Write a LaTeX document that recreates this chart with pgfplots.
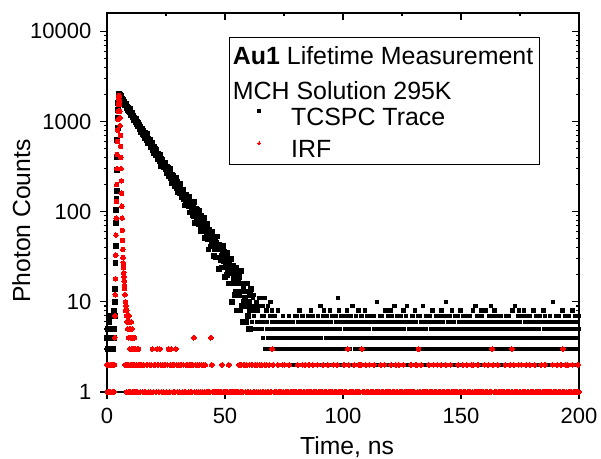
\documentclass[border=0pt]{standalone}
\usepackage{fontspec}
\setmainfont{Liberation Sans}
\usepackage{pgfplots}
\pgfplotsset{compat=1.18}
\begin{document}
\begin{tikzpicture}
\path[use as bounding box] (-53.5pt,-33.5pt) rectangle (247pt,196pt);
\begin{axis}[at={(0pt,0pt)}, anchor=south west, scale only axis, width=236pt, height=189.5pt,
 xmin=0, xmax=200, ymin=1, ymax=16000, ymode=log,
 xtick={0,50,100,150,200}, minor x tick num=1, ytick={1,10,100,1000,10000},
 xtick pos=left, ytick pos=left, tick align=outside, xticklabels={}, yticklabels={},
 major tick length=3.3pt, minor tick length=1.7pt,
 axis line style={line width=0.6pt}, tick style={black, line width=0.6pt}]
\end{axis}
\begin{axis}[at={(0pt,0pt)}, anchor=south west, scale only axis, width=236pt, height=189.5pt,
 xmin=0, xmax=200, ymin=1, ymax=16000, ymode=log, clip=false,
 xtick={0,50,100,150,200}, minor x tick num=1,
 ytick={1,10,100,1000,10000}, yticklabels={1,10,100,1000,10000},
 xtick pos=right, ytick pos=right, xticklabel pos=left, yticklabel pos=left, tick align=inside,
 major tick length=3.3pt, minor tick length=1.7pt,
 axis line style={draw=none}, tick style={black, line width=0.6pt},
 /pgf/number format/assume math mode=true,
 xticklabel style={font=\fontsize{11}{13}\selectfont, anchor=base, inner sep=0pt, yshift=-15.65pt},
 yticklabel style={font=\fontsize{11}{13}\selectfont, anchor=east, inner sep=0pt, xshift=-7.65pt},
 xlabel={Time, ns}, ylabel={Photon Counts},
 every axis x label/.style={at={(axis description cs:0.5085,-0.1662)}, anchor=base, font=\fontsize{12.35}{14}\selectfont},
 every axis y label/.style={at={(axis description cs:-0.163,0.451)}, rotate=90, anchor=base, font=\fontsize{12.35}{14}\selectfont},
 legend style={at={(axis description cs:0.3199,0.748)}, anchor=north west, draw=none, fill=none,
   inner sep=0pt, outer sep=0pt, row sep=5.94pt, font=\fontsize{12.45}{14}\selectfont,
   nodes={inner sep=0pt}, /tikz/every odd column/.append style={column sep=15.3pt}},
 legend cell align=left,
 legend image code/.code={\draw[#1, mark size=0.65pt] plot coordinates {(0pt,3.8pt)};}
]
\addplot[black, only marks, mark=square*, mark size=1.2pt, mark options={fill=black, draw=black, line width=0pt}] table[row sep=\\] {t y\\
0 4\\0.2 5\\0.4 3\\0.6 4\\0.8 6\\1 3\\1.2 5\\1.4 4\\1.6 3\\1.8 7\\2 4\\2.2 5\\2.4 3\\2.6 4\\2.8 5\\3 8\\3.2 4\\
3.3 7\\3.4 10\\3.5 14\\3.6 27\\3.7 42\\3.8 75\\3.9 105\\4 140\\4.1 170\\4.2 290\\4.3 400\\4.4 620\\4.5 850\\4.6 1100\\4.7 1350\\4.8 1600\\4.9 1800\\5 1950\\5.1 2020\\
5.2 2001\\5.4 1890\\5.6 1953\\5.8 1864\\6 1917\\6.2 1770\\6.4 1777\\6.6 1659\\6.8 1751\\7 1694\\
7.2 1618\\7.4 1670\\7.6 1520\\7.8 1580\\8 1517\\8.2 1586\\8.4 1425\\8.6 1447\\8.8 1330\\9 1430\\
9.2 1381\\9.4 1316\\9.6 1365\\9.8 1258\\10 1260\\10.2 1186\\10.4 1242\\10.6 1261\\10.8 1156\\11 1113\\
11.2 1169\\11.4 1044\\11.6 1099\\11.8 1055\\12 1078\\12.2 985\\12.4 1065\\12.6 993\\12.8 945\\13 896\\
13.2 961\\13.4 913\\13.6 885\\13.8 929\\14 832\\14.2 865\\14.4 761\\14.6 835\\14.8 834\\15 771\\
15.2 717\\15.4 786\\15.6 755\\15.8 712\\16 752\\16.2 659\\16.4 707\\16.6 672\\16.8 724\\17 622\\
17.2 644\\17.4 572\\17.6 644\\17.8 617\\18 579\\18.2 618\\18.4 552\\18.6 559\\18.8 514\\19 558\\
19.2 576\\19.4 510\\19.6 487\\19.8 529\\20 450\\20.2 491\\20.4 467\\20.6 486\\20.8 428\\21 486\\
21.2 443\\21.4 414\\21.6 386\\21.8 433\\22 406\\22.2 391\\22.4 425\\22.6 362\\22.8 388\\23 323\\
23.2 376\\23.4 379\\23.6 340\\23.8 349\\24 312\\24.2 348\\24.4 320\\24.6 350\\24.8 297\\25 308\\
25.2 266\\25.4 314\\25.6 297\\25.8 274\\26 303\\26.2 248\\26.4 281\\26.6 262\\26.8 297\\27 237\\
27.2 253\\27.4 210\\27.6 259\\27.8 244\\28 224\\28.2 250\\28.4 212\\28.6 219\\28.8 193\\29 223\\
29.2 236\\29.4 198\\29.6 185\\29.8 215\\30 167\\30.2 196\\30.4 182\\30.6 196\\30.8 162\\31 201\\
31.2 175\\31.4 159\\31.6 144\\31.8 174\\32 159\\32.2 152\\32.4 174\\32.6 138\\32.8 155\\33 117\\
33.2 151\\33.4 154\\33.6 132\\33.8 139\\34 118\\34.2 141\\34.4 125\\34.6 146\\34.8 114\\35 122\\
35.2 98\\35.4 129\\35.6 119\\35.8 106\\36 126\\36.2 92\\36.4 113\\36.6 103\\36.8 127\\37 90\\
37.2 101\\37.4 75\\37.6 107\\37.8 100\\38 87\\38.2 104\\38.4 82\\38.6 87\\38.8 72\\39 92\\
39.2 101\\39.4 78\\39.6 70\\39.8 90\\40 61\\40.2 80\\40.4 72\\40.6 81\\40.8 61\\41 85\\
41.2 70\\41.4 61\\41.6 51\\41.8 71\\42 62\\42.2 58\\42.4 73\\42.6 50\\42.8 62\\43 38\\
43.2 61\\43.4 63\\43.6 50\\43.8 55\\44 41\\44.2 57\\44.4 47\\44.6 60\\44.8 41\\45 47\\
45.2 32\\45.4 51\\45.6 46\\45.8 38\\46 51\\46.2 31\\46.4 45\\46.6 38\\46.8 53\\47 31\\
47.2 38\\47.4 23\\47.6 43\\47.8 38\\48 31\\48.2 42\\48.4 29\\48.6 32\\48.8 24\\49 36\\
49.2 42\\49.4 28\\49.6 24\\49.8 36\\50 19\\50.2 30\\50.4 26\\50.6 32\\50.8 20\\51 35\\
51.2 26\\51.4 21\\51.6 16\\51.8 29\\52 23\\52.2 21\\52.4 30\\52.6 16\\52.8 24\\53 10\\
53.2 23\\53.4 25\\53.6 17\\53.8 20\\54 12\\54.2 21\\54.4 16\\54.6 24\\54.8 13\\55 16\\
55.2 8\\55.4 19\\55.6 17\\55.8 12\\56 19\\56.2 8\\56.4 16\\56.6 13\\56.8 22\\57 9\\
57.2 13\\57.4 6\\57.6 16\\57.8 14\\58 10\\58.2 16\\58.4 9\\58.6 11\\58.8 6\\59 13\\
59.2 16\\59.4 9\\59.6 7\\59.8 13\\60 5\\60.2 10\\60.4 8\\60.6 12\\60.8 5\\61 14\\
};
\addlegendentry{TCSPC Trace}
\addplot[forget plot, black, only marks, mark=square*, mark size=0.85pt, mark options={fill=black, draw=black, line width=0pt}] table[row sep=\\] {t y\\
61.2 9\\61.4 6\\61.6 5\\61.8 11\\62 8\\62.2 7\\62.4 12\\62.6 5\\62.8 9\\63 5\\
63.2 9\\63.4 10\\63.6 6\\63.8 8\\64 5\\64.2 9\\64.4 6\\64.6 11\\64.8 5\\65 6\\
65.2 5\\65.4 9\\65.6 7\\65.8 5\\66 9\\66.2 4\\66.4 7\\66.6 6\\66.8 11\\67 3\\
67.2 6\\67.4 3\\67.6 8\\67.8 6\\68 5\\68.2 9\\68.4 4\\68.6 5\\68.8 3\\69 7\\
69.2 10\\69.4 5\\69.6 3\\69.8 8\\70 3\\
70.2 6\\70.4 4\\70.6 5\\70.8 3\\71 7\\71.2 5\\71.4 4\\71.6 6\\71.8 3\\72 5\\
72.2 4\\72.4 8\\72.6 5\\72.8 3\\73 6\\73.2 4\\73.4 5\\73.6 2\\73.8 6\\74 4\\
74.2 5\\74.4 3\\74.6 7\\74.8 4\\75 5\\75.2 6\\75.4 3\\75.6 4\\75.8 5\\76 2\\
76.2 6\\76.4 5\\76.6 4\\76.8 3\\77 7\\77.2 4\\77.4 5\\77.6 3\\77.8 6\\78 4\\
78.2 4\\78.4 5\\78.6 3\\78.8 6\\79 2\\79.2 5\\79.4 4\\79.6 7\\79.8 3\\80 5\\
80.2 4\\80.4 7\\80.6 3\\80.8 5\\81 2\\81.2 6\\81.4 4\\81.6 8\\81.8 3\\82 5\\82.2 2\\82.4 6\\82.6 4\\82.8 7\\83 5\\83.2 3\\83.4 2\\83.6 6\\83.8 4\\84 3\\
84.2 5\\84.4 3\\84.6 6\\84.8 2\\85 4\\85.2 7\\85.4 5\\85.6 3\\85.8 6\\86 4\\86.2 2\\86.4 8\\86.6 5\\86.8 3\\87 7\\87.2 4\\87.4 2\\87.6 6\\87.8 1\\88 5\\
88.2 3\\88.4 6\\88.6 4\\88.8 2\\89 5\\89.2 3\\89.4 7\\89.6 4\\89.8 6\\90 2\\90.2 5\\90.4 9\\90.6 3\\90.8 4\\91 6\\91.2 2\\91.4 5\\91.6 7\\91.8 3\\92 8\\
92.2 6\\92.4 2\\92.6 5\\92.8 4\\93 3\\93.2 7\\93.4 2\\93.6 6\\93.8 4\\94 5\\94.2 3\\94.4 8\\94.6 2\\94.8 4\\95 6\\95.2 5\\95.4 3\\95.6 7\\95.8 4\\96 1\\
96.2 2\\96.4 5\\96.6 3\\96.8 7\\97 4\\97.2 6\\97.4 3\\97.6 5\\97.8 2\\98 11\\98.2 8\\98.4 6\\98.6 3\\98.8 5\\99 4\\99.2 2\\99.4 7\\99.6 3\\99.8 6\\100 4\\
100.2 4\\100.4 3\\100.6 6\\100.8 5\\101 2\\101.2 7\\101.4 4\\101.6 3\\101.8 8\\102 5\\102.2 6\\102.4 2\\102.6 4\\102.8 3\\103 5\\103.2 7\\103.4 2\\103.6 6\\103.8 4\\104 9\\
104.2 5\\104.4 4\\104.6 2\\104.8 6\\105 3\\105.2 5\\105.4 7\\105.6 4\\105.8 2\\106 6\\106.2 3\\106.4 5\\106.6 8\\106.8 4\\107 2\\107.2 3\\107.4 6\\107.6 4\\107.8 7\\108 5\\
108.2 3\\108.4 6\\108.6 5\\108.8 2\\109 4\\109.2 8\\109.4 3\\109.6 5\\109.8 6\\110 2\\110.2 4\\110.4 7\\110.6 3\\110.8 6\\111 5\\111.2 2\\111.4 4\\111.6 3\\111.8 7\\112 1\\
112.2 6\\112.4 3\\112.6 4\\112.8 2\\113 7\\113.2 5\\113.4 3\\113.6 6\\113.8 4\\114 2\\114.2 5\\114.4 10\\114.6 3\\114.8 4\\115 6\\115.2 5\\115.4 2\\115.6 7\\115.8 3\\116 4\\
116.2 2\\116.4 4\\116.6 7\\116.8 3\\117 5\\117.2 6\\117.4 2\\117.6 4\\117.8 3\\118 8\\118.2 5\\118.4 6\\118.6 2\\118.8 4\\119 7\\119.2 3\\119.4 5\\119.6 4\\119.8 6\\120 3\\
120.2 8\\120.4 3\\120.6 7\\120.8 5\\121 2\\121.2 6\\121.4 4\\121.6 3\\121.8 9\\122 5\\122.2 2\\122.4 6\\122.6 4\\122.8 7\\123 3\\123.2 5\\123.4 2\\123.6 4\\123.8 6\\124 3\\
124.2 5\\124.4 7\\124.6 4\\124.8 6\\125 3\\125.2 2\\125.4 4\\125.6 8\\125.8 5\\126 3\\126.2 6\\126.4 2\\126.6 4\\126.8 7\\127 9\\127.2 3\\127.4 6\\127.6 2\\127.8 4\\128 5\\
128.2 3\\128.4 4\\128.6 6\\128.8 2\\129 3\\129.2 5\\129.4 7\\129.6 4\\129.8 6\\130 2\\130.2 5\\130.4 3\\130.6 8\\130.8 4\\131 6\\131.2 2\\131.4 5\\131.6 3\\131.8 7\\132 4\\
132.2 4\\132.4 3\\132.6 7\\132.8 2\\133 5\\133.2 6\\133.4 4\\133.6 3\\133.8 9\\134 5\\134.2 2\\134.4 4\\134.6 6\\134.8 3\\135 5\\135.2 7\\135.4 2\\135.6 4\\135.8 3\\136 6\\
136.2 4\\136.4 6\\136.6 3\\136.8 7\\137 2\\137.2 4\\137.4 5\\137.6 3\\137.8 6\\138 8\\138.2 4\\138.4 2\\138.6 5\\138.8 3\\139 6\\139.2 4\\139.4 7\\139.6 3\\139.8 5\\140 2\\
140.2 5\\140.4 1\\140.6 6\\140.8 2\\141 4\\141.2 7\\141.4 3\\141.6 5\\141.8 8\\142 2\\142.2 4\\142.4 6\\142.6 3\\142.8 5\\143 7\\143.2 4\\143.4 2\\143.6 10\\143.8 3\\144 5\\
144.2 3\\144.4 6\\144.6 4\\144.8 5\\145 3\\145.2 7\\145.4 4\\145.6 2\\145.8 6\\146 5\\146.2 8\\146.4 3\\146.6 4\\146.8 2\\147 6\\147.2 5\\147.4 3\\147.6 7\\147.8 4\\148 2\\
148.2 1\\148.4 4\\148.6 7\\148.8 3\\149 5\\149.2 6\\149.4 4\\149.6 2\\149.8 8\\150 3\\150.2 5\\150.4 4\\150.6 6\\150.8 2\\151 7\\151.2 3\\151.4 4\\151.6 5\\151.8 2\\152 6\\
152.2 1\\152.4 7\\152.6 3\\152.8 4\\153 2\\153.2 5\\153.4 6\\153.6 3\\153.8 7\\154 4\\154.2 2\\154.4 6\\154.6 5\\154.8 3\\155 8\\155.2 4\\155.4 2\\155.6 5\\155.8 6\\156 3\\
156.2 9\\156.4 4\\156.6 6\\156.8 2\\157 7\\157.2 5\\157.4 3\\157.6 4\\157.8 2\\158 6\\158.2 5\\158.4 8\\158.6 3\\158.8 4\\159 7\\159.2 2\\159.4 5\\159.6 6\\159.8 3\\160 4\\
160.2 3\\160.4 8\\160.6 5\\160.8 6\\161 2\\161.2 4\\161.4 3\\161.6 5\\161.8 7\\162 2\\162.2 6\\162.4 4\\162.6 9\\162.8 4\\163 3\\163.2 6\\163.4 5\\163.6 2\\163.8 7\\164 4\\
164.2 8\\164.4 3\\164.6 5\\164.8 2\\165 6\\165.2 4\\165.4 7\\165.6 5\\165.8 3\\166 2\\166.2 6\\166.4 4\\166.6 3\\166.8 4\\167 7\\167.2 3\\167.4 5\\167.6 2\\167.8 6\\168 4\\
168.2 5\\168.4 6\\168.6 2\\168.8 4\\169 7\\169.2 3\\169.4 6\\169.6 5\\169.8 2\\170 4\\170.2 3\\170.4 7\\170.6 1\\170.8 3\\171 6\\171.2 5\\171.4 2\\171.6 4\\171.8 8\\172 3\\
172.2 4\\172.4 6\\172.6 2\\172.8 5\\173 9\\173.2 3\\173.4 4\\173.6 6\\173.8 2\\174 5\\174.2 7\\174.4 3\\174.6 8\\174.8 3\\175 6\\175.2 4\\175.4 2\\175.6 5\\175.8 3\\176 7\\
176.2 4\\176.4 3\\176.6 8\\176.8 5\\177 6\\177.2 2\\177.4 4\\177.6 7\\177.8 3\\178 5\\178.2 4\\178.4 6\\178.6 3\\178.8 2\\179 4\\179.2 7\\179.4 3\\179.6 5\\179.8 6\\180 2\\
180.2 5\\180.4 2\\180.6 4\\180.8 8\\181 6\\181.2 3\\181.4 5\\181.6 4\\181.8 2\\182 7\\182.2 3\\182.4 6\\182.6 4\\182.8 2\\183 5\\183.2 3\\183.4 7\\183.6 4\\183.8 6\\184 3\\
184.2 3\\184.4 6\\184.6 4\\184.8 2\\185 8\\185.2 5\\185.4 3\\185.6 7\\185.8 4\\186 2\\186.2 6\\186.4 1\\186.6 5\\186.8 5\\187 3\\187.2 6\\187.4 2\\187.6 4\\187.8 7\\188 5\\
188.2 6\\188.4 4\\188.6 2\\188.8 5\\189 10\\189.2 3\\189.4 4\\189.6 6\\189.8 5\\190 2\\190.2 7\\190.4 3\\190.6 4\\190.8 6\\191 3\\191.2 4\\191.4 2\\191.6 7\\191.8 5\\192 3\\
192.2 6\\192.4 4\\192.6 5\\192.8 3\\193 8\\193.2 2\\193.4 4\\193.6 6\\193.8 5\\194 3\\194.2 7\\194.4 4\\194.6 1\\194.8 6\\195 2\\195.2 5\\195.4 4\\195.6 3\\195.8 7\\196 2\\
196.2 4\\196.4 2\\196.6 6\\196.8 3\\197 5\\197.2 8\\197.4 4\\197.6 2\\197.8 3\\198 6\\198.2 4\\198.4 7\\198.6 5\\198.8 5\\199 4\\199.2 2\\199.4 6\\199.6 3\\199.8 5\\200 7\\
};
\addplot[red, only marks, mark=*, mark size=1.15pt, mark options={fill=red, draw=red, line width=0pt}] table[row sep=\\] {t y\\
0 2\\0.2 1\\0.4 2\\0.6 1\\0.8 2\\1 1\\1.2 1\\1.4 2\\1.6 1\\1.8 2\\2 2\\2.2 1\\2.4 2\\2.6 1\\2.8 2\\3 1\\3.2 2\\
3.3 4\\3.4 7\\3.5 12\\3.6 18\\3.7 33\\3.8 55\\3.9 85\\4 130\\4.1 200\\4.2 300\\4.3 430\\4.4 600\\4.5 800\\4.6 1050\\4.7 1300\\4.8 1550\\4.9 1780\\5 1950\\5.1 1900\\
5.2 1750\\5.3 1550\\5.4 1300\\5.5 1100\\5.6 900\\5.7 700\\5.8 530\\5.9 400\\6 300\\6.1 220\\6.2 160\\6.3 115\\6.4 85\\6.5 62\\6.6 48\\6.7 38\\6.8 31\\6.9 27\\7 24\\7.1 21\\7.2 19\\7.3 17\\7.4 15\\7.5 14\\
7.6 12\\7.7 2\\7.8 10\\7.9 8\\8 9\\8.1 2\\8.2 7\\8.3 1\\8.4 8\\8.5 6\\8.6 2\\8.7 7\\8.8 5\\8.9 1\\9 6\\9.1 4\\9.2 2\\9.3 7\\9.4 5\\9.5 1\\9.6 6\\9.7 3\\9.8 4\\9.9 2\\10 5\\
10.1 1\\10.2 4\\10.3 6\\10.4 2\\10.5 3\\10.6 5\\10.7 1\\10.8 4\\10.9 3\\11 2\\11.1 4\\11.2 1\\11.3 3\\11.4 2\\11.5 3\\11.6 1\\11.7 4\\11.8 2\\11.9 3\\12 1\\12.2 3\\12.4 2\\12.6 1\\12.8 3\\13 1\\13.2 2\\13.4 3\\
13.6 2\\14 1\\14.4 2\\14.8 2\\15.2 1\\15.6 2\\16 1\\16.4 1\\16.8 2\\17.2 2\\17.6 1\\18 2\\18.4 1\\18.8 2\\19.2 3\\19.6 1\\20 2\\20.4 2\\20.8 1\\21.2 3\\
21.6 2\\22 1\\22.4 3\\22.8 2\\23.2 1\\23.6 2\\24 1\\24.4 2\\24.8 2\\25.2 1\\25.6 2\\26 3\\26.4 1\\26.8 2\\27.2 3\\27.6 2\\28 1\\28.4 2\\28.8 1\\29.2 3\\
29.6 2\\30 1\\30.4 2\\30.8 1\\31.2 2\\31.6 2\\32 1\\32.4 2\\32.8 1\\33.2 1\\33.6 2\\34 2\\34.4 1\\34.8 2\\35.2 1\\35.6 2\\36 1\\36.4 2\\36.8 4\\37.2 1\\
37.6 2\\38 1\\38.4 2\\38.8 1\\39.2 2\\39.6 1\\40 2\\40.4 1\\40.8 2\\41.2 1\\41.6 2\\
42 1\\42.4 1\\42.8 1\\43.2 1\\43.6 1\\44 4\\44.4 2\\44.8 1\\45.2 1\\45.6 1\\46 1\\46.4 1\\46.8 1\\47.2 1\\47.6 1\\48 1\\48.4 1\\48.8 2\\49.2 1\\49.6 1\\
50 1\\50.4 1\\50.8 1\\51.2 1\\51.6 2\\52 1\\52.4 1\\52.8 1\\53.2 1\\53.6 1\\54 1\\54.4 1\\54.8 1\\55.2 1\\55.6 1\\
56 2\\56.4 1\\56.8 2\\57.2 1\\57.6 1\\58 2\\58.4 2\\58.8 1\\59.2 2\\59.6 1\\60 1\\60.4 2\\60.8 1\\61.2 2\\61.6 2\\62 1\\62.4 1\\62.8 2\\63.2 1\\63.6 2\\
64 1\\64.4 1\\64.8 2\\65.2 1\\65.6 2\\66 1\\66.4 1\\66.8 2\\
67.2 1\\67.6 2\\68 1\\68.4 1\\68.8 2\\69.2 1\\69.6 1\\70 3\\70.4 2\\70.8 1\\
71.2 1\\71.6 1\\72 1\\72.4 2\\72.8 1\\73.2 1\\73.6 1\\74 1\\74.4 2\\74.8 1\\
75.2 2\\75.6 1\\76 1\\76.4 1\\76.8 1\\77.2 2\\77.6 1\\78 1\\78.4 1\\78.8 1\\
79.2 1\\79.6 1\\80 1\\80.4 1\\80.8 2\\81.2 1\\81.6 1\\82 1\\82.4 1\\82.8 2\\
83.2 1\\83.6 1\\84 2\\84.4 1\\84.8 1\\85.2 1\\85.6 2\\86 1\\86.4 1\\86.8 1\\
87.2 2\\87.6 1\\88 1\\88.4 1\\88.8 1\\89.2 2\\89.6 1\\90 1\\90.4 1\\90.8 1\\
91.2 1\\91.6 2\\92 1\\92.4 1\\92.8 1\\93.2 1\\93.6 2\\94 1\\94.4 1\\94.8 1\\
95.2 1\\95.6 1\\96 2\\96.4 1\\96.8 1\\97.2 1\\97.6 2\\98 1\\98.4 1\\98.8 1\\
99.2 1\\99.6 1\\100 1\\100.4 2\\100.8 1\\101.2 1\\101.6 1\\102 3\\102.4 2\\102.8 1\\
103.2 1\\103.6 1\\104 1\\104.4 1\\104.8 2\\105.2 1\\105.6 1\\106 1\\106.4 1\\106.8 2\\
107.2 1\\107.6 2\\108 3\\108.4 1\\108.8 1\\109.2 1\\109.6 2\\110 1\\110.4 1\\110.8 1\\
111.2 2\\111.6 1\\112 1\\112.4 1\\112.8 1\\113.2 2\\113.6 1\\114 1\\114.4 1\\114.8 1\\
115.2 1\\115.6 1\\116 2\\116.4 1\\116.8 1\\117.2 1\\117.6 2\\118 1\\118.4 1\\118.8 1\\
119.2 1\\119.6 1\\120 1\\120.4 2\\120.8 1\\121.2 1\\121.6 1\\122 1\\122.4 2\\122.8 1\\
123.2 1\\123.6 2\\124 1\\124.4 1\\124.8 1\\125.2 1\\125.6 2\\126 1\\126.4 1\\126.8 1\\
127.2 1\\127.6 1\\128 1\\128.4 1\\128.8 2\\129.2 1\\129.6 1\\130 1\\130.4 1\\130.8 2\\
131.2 2\\131.6 1\\132 3\\132.4 1\\132.8 1\\133.2 2\\133.6 1\\134 1\\134.4 1\\134.8 1\\
135.2 1\\135.6 1\\136 1\\136.4 2\\136.8 1\\137.2 1\\137.6 1\\138 1\\138.4 2\\138.8 1\\
139.2 1\\139.6 1\\140 2\\140.4 1\\140.8 1\\141.2 1\\141.6 2\\142 1\\142.4 1\\142.8 1\\
143.2 1\\143.6 2\\144 1\\144.4 1\\144.8 1\\145.2 1\\145.6 2\\146 1\\146.4 1\\146.8 1\\
147.2 1\\147.6 1\\148 1\\148.4 1\\148.8 2\\149.2 1\\149.6 1\\150 1\\150.4 1\\150.8 2\\
151.2 1\\151.6 1\\152 1\\152.4 2\\152.8 1\\153.2 1\\153.6 1\\154 1\\154.4 2\\154.8 1\\
155.2 2\\155.6 1\\156 1\\156.4 1\\156.8 1\\157.2 2\\157.6 1\\158 1\\158.4 1\\158.8 1\\
159.2 1\\159.6 1\\160 2\\160.4 1\\160.8 1\\161.2 1\\161.6 2\\162 1\\162.4 1\\162.8 1\\
163.2 3\\163.6 2\\164 1\\164.4 1\\164.8 1\\165.2 1\\165.6 2\\166 1\\166.4 1\\166.8 1\\
167.2 1\\167.6 1\\168 1\\168.4 1\\168.8 2\\169.2 1\\169.6 1\\170 1\\170.4 1\\170.8 2\\
171.2 1\\171.6 3\\172 1\\172.4 2\\172.8 1\\173.2 1\\173.6 1\\174 1\\174.4 2\\174.8 1\\
175.2 1\\175.6 2\\176 1\\176.4 1\\176.8 1\\177.2 1\\177.6 2\\178 1\\178.4 1\\178.8 1\\
179.2 2\\179.6 1\\180 1\\180.4 1\\180.8 1\\181.2 2\\181.6 1\\182 1\\182.4 1\\182.8 1\\
183.2 1\\183.6 1\\184 2\\184.4 1\\184.8 1\\185.2 1\\185.6 2\\186 1\\186.4 1\\186.8 1\\
187.2 1\\187.6 1\\188 1\\188.4 1\\188.8 2\\189.2 1\\189.6 1\\190 1\\190.4 1\\190.8 2\\
191.2 1\\191.6 1\\192 1\\192.4 2\\192.8 1\\193.2 3\\193.6 1\\194 1\\194.4 2\\194.8 1\\
195.2 2\\195.6 1\\196 1\\196.4 1\\196.8 1\\197.2 2\\197.6 1\\198 1\\198.4 1\\198.8 1\\
199.2 1\\199.6 2\\200 1\\
};
\addlegendentry{IRF}
\draw[line width=0.5pt] (axis description cs:0.2585,0.599) rectangle (axis description cs:0.9153,0.934);
\node[anchor=base west, inner sep=0pt, font=\fontsize{12.45}{14}\selectfont] at (axis description cs:0.266,0.8628) {\textbf{Au1} Lifetime Measurement};
\node[anchor=base west, inner sep=0pt, font=\fontsize{12.45}{14}\selectfont] at (axis description cs:0.266,0.7723) {MCH Solution 295K};
\end{axis}
\end{tikzpicture}
\end{document}
